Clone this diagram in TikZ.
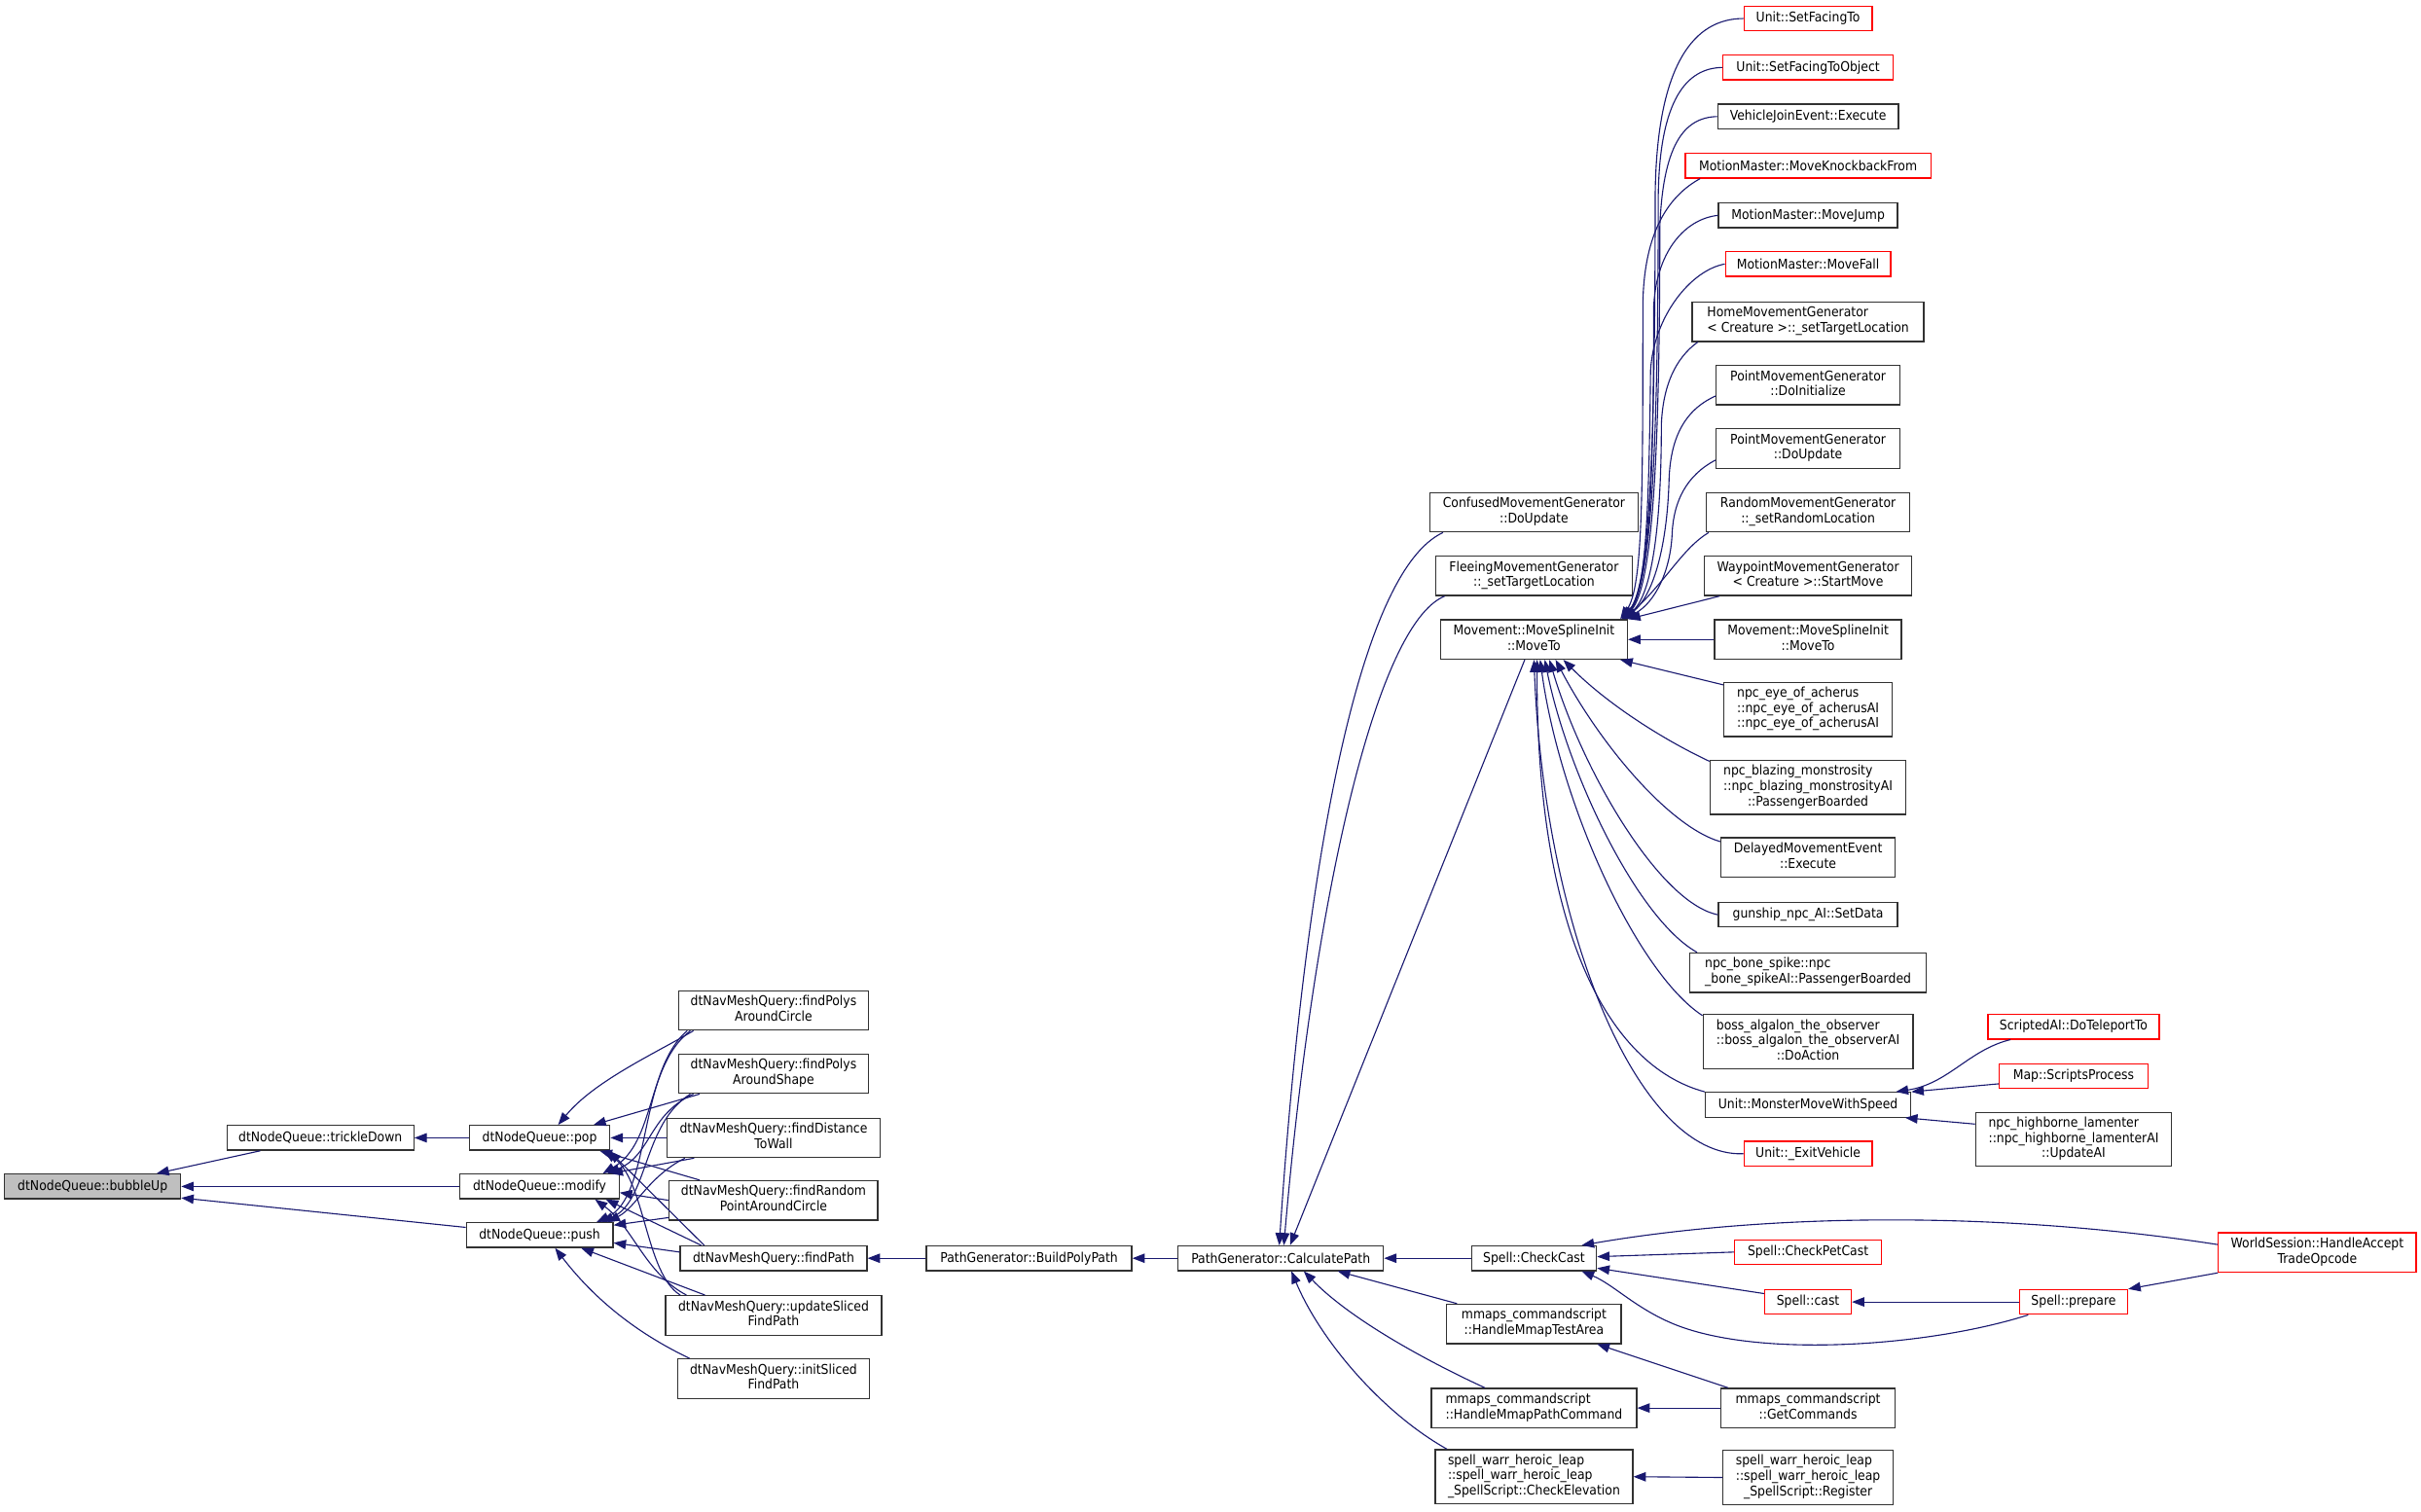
\documentclass[tikz,border=0pt]{standalone}
\usepackage{fontspec}
\setmainfont{DejaVu Sans}[FakeStretch=0.9]
\usetikzlibrary{arrows.meta,calc}
\definecolor{navyc}{RGB}{25,25,112}
\definecolor{redc}{RGB}{255,0,0}
\definecolor{grayc}{RGB}{191,191,191}
\definecolor{bordc}{RGB}{50,50,50}
\newcommand{\gfont}{\fontsize{8.7}{9.9}\selectfont}
\newcommand{\TwoC}[2]{\begin{tabular}{@{}c@{}}#1\\#2\end{tabular}}
\newcommand{\TwoL}[2]{\begin{tabular}{@{}l@{}}#1\\#2\end{tabular}}
\newcommand{\ThreeL}[3]{\begin{tabular}{@{}l@{}}#1\\#2\\#3\end{tabular}}
\newcommand{\ThreeLC}[3]{\begin{tabular}{@{}l@{}}#1\\#2\\\multicolumn{1}{@{}c@{}}{#3}\end{tabular}}
\tikzset{
  nd/.style={draw=bordc, fill=white, line width=0.8pt, inner xsep=2pt, inner ysep=0.5pt, font=\gfont, anchor=center},
  rd/.style={nd, draw=redc},
  bw/.style={minimum width=#1},
  ln1/.style={minimum height=16pt},
  ln2/.style={minimum height=25.5pt},
  ln3/.style={minimum height=35pt},
  ed/.style={draw=navyc, line width=0.7pt, -{Triangle[length=8pt,width=6pt]}},
}
\begin{document}
\begin{tikzpicture}[x=1pt,y=-1pt]
\path[use as bounding box, fill=white] (0,0) rectangle (1568,979);

% column 0-2
\node[nd, fill=grayc, bw=114pt, ln1] (bu) at (60,768.5) {dtNodeQueue::bubbleUp};
\node[nd, bw=121pt, ln1] (td) at (207.5,737) {dtNodeQueue::trickleDown};
\node[nd, bw=91pt, ln1] (pop) at (349.5,737) {dtNodeQueue::pop};
\node[nd, bw=103pt, ln1] (mod) at (349.5,768.5) {dtNodeQueue::modify};
\node[nd, bw=95pt, ln1] (push) at (349.5,800) {dtNodeQueue::push};
% column 3
\node[nd, bw=123pt, ln2] (fpac) at (501,654.5) {\TwoC{dtNavMeshQuery::findPolys}{AroundCircle}};
\node[nd, bw=123pt, ln2] (fpas) at (501,695.5) {\TwoC{dtNavMeshQuery::findPolys}{AroundShape}};
\node[nd, bw=138pt, ln2] (fdtw) at (501,737) {\TwoC{dtNavMeshQuery::findDistance}{ToWall}};
\node[nd, bw=135pt, ln2] (frpac) at (501,777.5) {\TwoC{dtNavMeshQuery::findRandom}{PointAroundCircle}};
\node[nd, bw=121pt, ln1] (fpath) at (501,815) {dtNavMeshQuery::findPath};
\node[nd, bw=140pt, ln2] (usfp) at (501,852) {\TwoC{dtNavMeshQuery::updateSliced}{FindPath}};
\node[nd, bw=124pt, ln2] (isfp) at (501,893) {\TwoC{dtNavMeshQuery::initSliced}{FindPath}};
% columns 4-5
\node[nd, bw=133pt, ln1] (bpp) at (666.5,815) {PathGenerator::BuildPolyPath};
\node[nd, bw=133pt, ln1] (cp) at (829.5,815) {PathGenerator::CalculatePath};
% column 6
\node[nd, bw=135pt, ln2] (conf) at (993.5,331.8) {\TwoC{ConfusedMovementGenerator}{::DoUpdate}};
\node[nd, bw=127pt, ln2] (flee) at (993.5,373) {\TwoC{FleeingMovementGenerator}{::\_setTargetLocation}};
\node[nd, bw=121pt, ln2] (mt) at (993.5,414.2) {\TwoC{Movement::MoveSplineInit}{::MoveTo}};
\node[nd, bw=81pt, ln1] (cc) at (993.5,815) {Spell::CheckCast};
\node[nd, bw=113pt, ln2] (mta) at (993.5,857.5) {\TwoC{mmaps\_commandscript}{::HandleMmapTestArea}};
\node[nd, bw=133pt, ln2] (mpc) at (993.5,912) {\TwoL{mmaps\_commandscript}{::HandleMmapPathCommand}};
\node[nd, bw=128pt, ln3] (cel) at (993.5,956.5) {\ThreeL{spell\_warr\_heroic\_leap}{::spell\_warr\_heroic\_leap}{\_SpellScript::CheckElevation}};
% column 7
\node[rd, bw=83pt, ln1] (sft) at (1171,12) {Unit::SetFacingTo};
\node[rd, bw=110pt, ln1] (sfto) at (1171,43.7) {Unit::SetFacingToObject};
\node[nd, bw=117pt, ln1] (vje) at (1171,75.5) {VehicleJoinEvent::Execute};
\node[rd, bw=159pt, ln1] (mkf) at (1171,107.3) {MotionMaster::MoveKnockbackFrom};
\node[nd, bw=116pt, ln1] (mj) at (1171,139.5) {MotionMaster::MoveJump};
\node[rd, bw=107pt, ln1] (mf) at (1171,171) {MotionMaster::MoveFall};
\node[nd, bw=150pt, ln2] (hmg) at (1171,208.4) {\TwoL{HomeMovementGenerator}{\textless{} Creature \textgreater::\_setTargetLocation}};
\node[nd, bw=119pt, ln2] (pmi) at (1171,249.5) {\TwoC{PointMovementGenerator}{::DoInitialize}};
\node[nd, bw=119pt, ln2] (pmu) at (1171,290.5) {\TwoC{PointMovementGenerator}{::DoUpdate}};
\node[nd, bw=132pt, ln2] (rmg) at (1171,331.8) {\TwoC{RandomMovementGenerator}{::\_setRandomLocation}};
\node[nd, bw=134pt, ln2] (wmg) at (1171,373) {\TwoC{WaypointMovementGenerator}{\textless{} Creature \textgreater::StartMove}};
\node[nd, bw=121pt, ln2] (mt2) at (1171,414.2) {\TwoC{Movement::MoveSplineInit}{::MoveTo}};
\node[nd, bw=109pt, ln3] (eye) at (1171,459.5) {\ThreeL{npc\_eye\_of\_acherus}{::npc\_eye\_of\_acherusAI}{::npc\_eye\_of\_acherusAI}};
\node[nd, bw=127pt, ln3] (blz) at (1171,510) {\ThreeLC{npc\_blazing\_monstrosity}{::npc\_blazing\_monstrosityAI}{::PassengerBoarded}};
\node[nd, bw=113pt, ln2] (dme) at (1171,555.3) {\TwoC{DelayedMovementEvent}{::Execute}};
\node[nd, bw=116pt, ln1] (gsd) at (1171,592.5) {gunship\_npc\_AI::SetData};
\node[nd, bw=153pt, ln2] (bsp) at (1171,630) {\TwoL{npc\_bone\_spike::npc}{\_bone\_spikeAI::PassengerBoarded}};
\node[nd, bw=136pt, ln3] (alg) at (1171,674.7) {\ThreeLC{boss\_algalon\_the\_observer}{::boss\_algalon\_the\_observerAI}{::DoAction}};
\node[nd, bw=133pt, ln1] (mmws) at (1171,715.6) {Unit::MonsterMoveWithSpeed};
\node[rd, bw=83pt, ln1] (ev) at (1171,747.3) {Unit::\_ExitVehicle};
\node[rd, bw=95pt, ln1] (cpc) at (1171,811) {Spell::CheckPetCast};
\node[rd, bw=56pt, ln1] (cast) at (1171,843.3) {Spell::cast};
\node[nd, bw=113pt, ln2] (gc) at (1171,912) {\TwoC{mmaps\_commandscript}{::GetCommands}};
\node[nd, bw=110pt, ln3] (reg) at (1171,957) {\ThreeLC{spell\_warr\_heroic\_leap}{::spell\_warr\_heroic\_leap}{\_SpellScript::Register}};
% column 8-9
\node[rd, bw=111pt, ln1] (tel) at (1343,665) {ScriptedAI::DoTeleportTo};
\node[rd, bw=96pt, ln1] (msp) at (1343,697) {Map::ScriptsProcess};
\node[nd, bw=127pt, ln3] (hbl) at (1343,738) {\ThreeLC{npc\_highborne\_lamenter}{::npc\_highborne\_lamenterAI}{::UpdateAI}};
\node[rd, bw=70pt, ln1] (prep) at (1343,843.3) {Spell::prepare};
\node[rd, bw=128pt, ln2] (ws) at (1500.8,811.3) {\TwoC{WorldSession::HandleAccept}{TradeOpcode}};

% ---- edges: left cluster
\draw[ed] ($(td.south west)+(22,0)$) -- ($(bu.north east)+(-16,0)$);
\draw[ed] (mod.west) -- (bu.east);
\draw[ed] ($(push.west)+(0,-5)$) -- ($(bu.south east)+(0,-1)$);
\draw[ed] (pop.west) -- (td.east);
% to pop
\draw[ed] ($(fpac.south west)+(10,0)$) .. controls (425,682) and (385,700) .. ($(pop.north)+(12,0)$);
\draw[ed] ($(fpas.south west)+(14,0)$) -- ($(pop.north east)+(-11,0)$);
\draw[ed] (fdtw.west) -- (pop.east);
\draw[ed] ($(frpac.north west)+(20,0)$) -- ($(pop.south east)+(-7,0)$);
\draw[ed] ($(fpath.north west)+(16,0)$) -- ($(pop.south east)+(-1,0)$);
\draw[ed] ($(usfp.north west)+(10,0)$) .. controls (418,825) and (418,765) .. ($(pop.south east)+(-4,0)$);
% to modify
\draw[ed] ($(fpac.south west)+(8,0)$) .. controls (418,690) and (425,740) .. ($(mod.north east)+(-11,0)$);
\draw[ed] ($(fpas.south west)+(10,0)$) .. controls (420,722) and (422,748) .. ($(mod.north east)+(-8,0)$);
\draw[ed] ($(fdtw.south west)+(18,0)$) -- ($(mod.north east)+(-6,0)$);
\draw[ed] (frpac.west) -- ($(mod.east)+(0,4)$);
\draw[ed] ($(fpath.north west)+(14,0)$) -- ($(mod.south east)+(-9,0)$);
\draw[ed] ($(usfp.north west)+(14,0)$) .. controls (418,825) and (410,795) .. ($(mod.south east)+(-16,0)$);
% to push
\draw[ed] ($(fpac.south west)+(6,0)$) .. controls (413,695) and (422,775) .. ($(push.north east)+(-11,0)$);
\draw[ed] ($(fpas.south west)+(8,0)$) .. controls (416,728) and (420,778) .. ($(push.north east)+(-8,0)$);
\draw[ed] ($(fdtw.south west)+(12,0)$) .. controls (420,762) and (412,782) .. ($(push.north east)+(-4,0)$);
\draw[ed] ($(frpac.south west)+(0,-2)$) -- ($(push.north east)+(0,2)$);
\draw[ed] ($(fpath.west)+(0,-4)$) -- ($(push.east)+(0,5)$);
\draw[ed] ($(usfp.north west)+(26,0)$) -- ($(push.south east)+(-21,0)$);
\draw[ed] ($(isfp.north west)+(8,0)$) .. controls (405,860) and (380,835) .. ($(push.south)+(10,0)$);
% middle
\draw[ed] (bpp.west) -- (fpath.east);
\draw[ed] (cp.west) -- (bpp.east);
\draw[ed] ($(conf.south west)+(9,0)$) .. controls (880,370) and (845,560) .. ($(cp.north)+(-1,0)$);
\draw[ed] ($(flee.south west)+(6,0)$) .. controls (890,405) and (850,590) .. ($(cp.north)+(2,0)$);
\draw[ed] ($(mt.south)+(-6,0)$) -- ($(cp.north)+(6,0)$);
\draw[ed] (cc.west) -- (cp.east);
\draw[ed] ($(mta.north west)+(7,0)$) -- ($(cp.south east)+(-30,0)$);
\draw[ed] ($(mpc.north west)+(35,0)$) .. controls (925,882) and (875,855) .. ($(cp.south east)+(-52,0)$);
\draw[ed] ($(cel.north west)+(8,0)$) .. controls (895,915) and (855,868) .. ($(cp.south east)+(-60,0)$);
% into MoveTo from above
\draw[ed] (sft.west) .. controls (1098,12) and (1073,40) .. (1072,126) .. controls (1072,300) and (1068,380) .. ($(mt.north east)+(-4,0)$);
\draw[ed] (sfto.west) .. controls (1092,44) and (1075,65) .. (1074,126) .. controls (1074,300) and (1069,380) .. ($(mt.north east)+(-4,0)$);
\draw[ed] (vje.west) .. controls (1090,76) and (1077,95) .. (1075,147) .. controls (1075,300) and (1070,380) .. ($(mt.north east)+(-3,0)$);
\draw[ed] ($(mkf.south west)+(10,0)$) .. controls (1075,130) and (1064,160) .. (1064,200) .. controls (1064,320) and (1064,380) .. ($(mt.north east)+(-5,0)$);
\draw[ed] (mj.west) .. controls (1090,142) and (1072,165) .. (1071,200) .. controls (1071,320) and (1068,380) .. ($(mt.north east)+(-4,0)$);
\draw[ed] (mf.west) .. controls (1095,175) and (1071,205) .. (1069,240) .. controls (1068,330) and (1066,385) .. ($(mt.north east)+(-4,0)$);
\draw[ed] ($(hmg.south west)+(4,0)$) .. controls (1085,232) and (1077,250) .. (1076,275) .. controls (1076,340) and (1070,385) .. ($(mt.north east)+(-3,0)$);
\draw[ed] ($(pmi.west)+(0,7)$) .. controls (1090,266) and (1082,285) .. (1081,310) .. controls (1080,350) and (1072,385) .. ($(mt.north east)+(-3,0)$);
\draw[ed] ($(pmu.west)+(0,7.5)$) .. controls (1092,308) and (1084,325) .. (1083,345) .. controls (1082,370) and (1072,390) .. ($(mt.north east)+(-2,0)$);
\draw[ed] ($(rmg.south west)+(2,0)$) .. controls (1090,355) and (1080,375) .. ($(mt.north east)+(-2,0)$);
\draw[ed] ($(wmg.south west)+(10,0)$) -- (mt.north east);
\draw[ed] (mt2.west) -- (mt.east);
% into MoveTo from below
\draw[ed] ($(eye.north west)+(0,2)$) -- ($(mt.south east)+(-5,0)$);
\draw[ed] ($(blz.north west)+(0,1)$) .. controls (1075,478) and (1040,455) .. ($(mt.south)+(19,0)$);
\draw[ed] ($(dme.north west)+(0,3)$) .. controls (1080,535) and (1035,480) .. ($(mt.south)+(14,0)$);
\draw[ed] (gsd.west) .. controls (1075,585) and (1025,500) .. ($(mt.south)+(10,0)$);
\draw[ed] ($(bsp.north west)+(5,0)$) .. controls (1060,595) and (1015,500) .. ($(mt.south)+(7,0)$);
\draw[ed] ($(alg.north west)+(0,1)$) .. controls (1060,630) and (1010,520) .. ($(mt.south)+(4,0)$);
\draw[ed] (mmws.north west) .. controls (1040,690) and (995,600) .. ($(mt.south)+(2,0)$);
\draw[ed] (ev.west) .. controls (1060,750) and (1000,600) .. (mt.south);
% into MonsterMoveWithSpeed
\draw[ed] ($(tel.south west)+(15,0)$) .. controls (1275,680) and (1262,702) .. ($(mmws.north east)+(-10,0)$);
\draw[ed] ($(msp.west)+(0,5)$) -- (mmws.north east);
\draw[ed] ($(hbl.north west)+(0,8)$) -- ($(mmws.south east)+(-4,0)$);
% into CheckCast
\draw[ed] ($(ws.north west)+(0,8)$) .. controls (1300,785) and (1150,785) .. ($(cc.north east)+(-10,0)$);
\draw[ed] (cpc.west) -- ($(cc.east)+(0,-1)$);
\draw[ed] ($(cast.north west)+(0,3)$) -- ($(cc.south east)+(0,-2)$);
\draw[ed] ($(prep.south west)+(6,0)$) .. controls (1250,872) and (1140,880) .. (1085,858) .. controls (1060,848) and (1045,832) .. ($(cc.south east)+(-10,0)$);
\draw[ed] (prep.west) -- (cast.east);
\draw[ed] (ws.south west) -- (prep.north east);
\draw[ed] ($(gc.north west)+(5,0)$) -- ($(mta.south east)+(-16,0)$);
\draw[ed] (gc.west) -- (mpc.east);
\draw[ed] (reg.west) -- (cel.east);
\end{tikzpicture}
\end{document}
